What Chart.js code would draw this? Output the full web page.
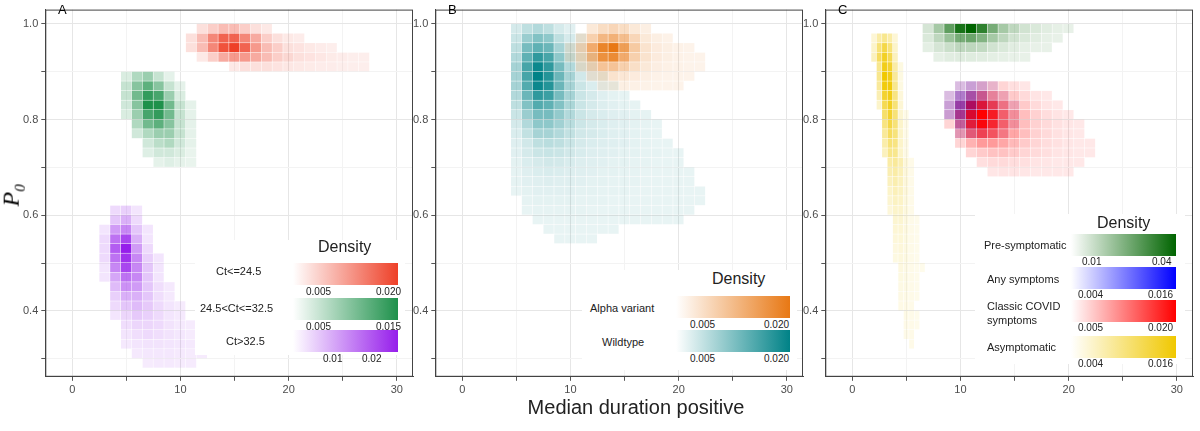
<!DOCTYPE html>
<html>
<head>
<meta charset="utf-8">
<script src="https://cdn.jsdelivr.net/npm/chart.js@4.4.1/dist/chart.umd.min.js"></script>
<style>
  body { margin:0; width:1200px; height:431px; background:#fff; font-family:"Liberation Sans", Arial, sans-serif; position:relative; overflow:hidden; }
  .pane { position:absolute; top:0; }
  .lab { position:absolute; font-size:13px; color:#000; }
  .leg { position:absolute; background:#fff; }
  .bar { position:absolute; height:22px; }
  .t { position:absolute; font-size:10px; color:#222; }
  .rl { position:absolute; font-size:11px; color:#222; }
  .dens { position:absolute; font-size:16px; color:#222; }
</style>
</head>
<body>
<div class="pane" style="left:20px;width:395px;height:400px"><canvas id="ca"></canvas></div>
<div class="pane" style="left:410px;width:395px;height:400px"><canvas id="cb"></canvas></div>
<div class="pane" style="left:800px;width:395px;height:400px"><canvas id="cc"></canvas></div>

<div class="lab" style="left:58px;top:2px">A</div>
<div class="lab" style="left:448px;top:2px">B</div>
<div class="lab" style="left:838px;top:2px">C</div>
<div style="position:absolute;left:2px;top:180px;transform:rotate(-90deg);font-family:'Liberation Serif',serif;font-style:italic;font-size:24px">P<sub style="font-size:15px">0</sub></div>
<div style="position:absolute;left:0;width:1200px;text-align:center;top:396px;font-size:20px;color:#222">
  <span style="position:relative;left:36px">Median duration positive</span></div>

<!-- legend A -->
<div class="leg" style="left:195px;top:240px;width:210px;height:115px"></div>
<div class="dens" style="left:318px;top:238px">Density</div>
<div class="rl" style="left:216px;top:265px">Ct&lt;=24.5</div>
<div class="bar" style="left:293px;top:263px;width:105px;background:linear-gradient(to right,#fff,rgb(238,64,40))"></div>
<div class="t" style="left:306px;top:286px">0.005</div><div class="t" style="left:376px;top:286px">0.020</div>
<div class="rl" style="left:200px;top:302px">24.5&lt;Ct&lt;=32.5</div>
<div class="bar" style="left:293px;top:298px;width:105px;background:linear-gradient(to right,#fff,rgb(30,145,75))"></div>
<div class="t" style="left:306px;top:321px">0.005</div><div class="t" style="left:376px;top:321px">0.015</div>
<div class="rl" style="left:226px;top:335px">Ct&gt;32.5</div>
<div class="bar" style="left:293px;top:330px;width:105px;background:linear-gradient(to right,#fff,rgb(150,30,235))"></div>
<div class="t" style="left:323px;top:353px">0.01</div><div class="t" style="left:362px;top:353px">0.02</div>

<!-- legend B -->
<div class="leg" style="left:582px;top:270px;width:215px;height:100px"></div>
<div class="dens" style="left:712px;top:270px">Density</div>
<div class="rl" style="left:590px;top:302px">Alpha variant</div>
<div class="bar" style="left:676px;top:296px;width:114px;background:linear-gradient(to right,#fff,rgb(232,120,20))"></div>
<div class="t" style="left:690px;top:319px">0.005</div><div class="t" style="left:764px;top:319px">0.020</div>
<div class="rl" style="left:602px;top:336px">Wildtype</div>
<div class="bar" style="left:676px;top:330px;width:114px;background:linear-gradient(to right,#fff,rgb(0,130,135))"></div>
<div class="t" style="left:690px;top:353px">0.005</div><div class="t" style="left:764px;top:353px">0.020</div>

<!-- legend C -->
<div class="leg" style="left:975px;top:214px;width:210px;height:150px"></div>
<div class="dens" style="left:1097px;top:214px">Density</div>
<div class="rl" style="left:984px;top:239px">Pre-symptomatic</div>
<div class="bar" style="left:1071px;top:234px;width:105px;background:linear-gradient(to right,#fff,rgb(0,100,0))"></div>
<div class="t" style="left:1082px;top:256px">0.01</div><div class="t" style="left:1152px;top:256px">0.04</div>
<div class="rl" style="left:987px;top:273px">Any symptoms</div>
<div class="bar" style="left:1071px;top:267px;width:105px;background:linear-gradient(to right,#fff,rgb(0,0,255))"></div>
<div class="t" style="left:1078px;top:289px">0.004</div><div class="t" style="left:1148px;top:289px">0.016</div>
<div class="rl" style="left:987px;top:299px;line-height:14px">Classic COVID<br>symptoms</div>
<div class="bar" style="left:1071px;top:300px;width:105px;background:linear-gradient(to right,#fff,rgb(255,0,0))"></div>
<div class="t" style="left:1078px;top:322px">0.005</div><div class="t" style="left:1148px;top:322px">0.020</div>
<div class="rl" style="left:987px;top:341px">Asymptomatic</div>
<div class="bar" style="left:1071px;top:336px;width:105px;background:linear-gradient(to right,#fff,rgb(240,200,0))"></div>
<div class="t" style="left:1078px;top:358px">0.004</div><div class="t" style="left:1148px;top:358px">0.016</div>

<script>
// rows: [y, first x, relative densities along x]
var ctLow = [
  [0.99, 12, [.1,.2,.3,.3,.2,.1,.05]],
  [0.97, 11, [.1,.3,.6,.8,.8,.6,.4,.2,.1,.05,.03]],
  [0.95, 11, [.1,.3,.6,.9,1,.8,.5,.3,.2,.1,.08,.05,.03,.02]],
  [0.93, 12, [.05,.2,.4,.5,.5,.4,.3,.2,.15,.1,.08,.06,.04,.03,.02,.02]],
  [0.91, 15, [.05,.1,.1,.1,.08,.06,.05,.04,.03,.03,.02,.02,.02]]
];
var ctMid = [
  [0.89, 5, [.1,.3,.4,.2,.05]],
  [0.87, 5, [.2,.5,.7,.5,.2,.05]],
  [0.85, 5, [.2,.6,.9,.8,.4,.1]],
  [0.83, 5, [.15,.5,1,1,.6,.2,.05]],
  [0.81, 5, [.1,.4,.8,.9,.6,.2,.05]],
  [0.79, 6, [.3,.6,.7,.5,.2,.05]],
  [0.77, 6, [.15,.3,.4,.4,.2,.05]],
  [0.75, 7, [.15,.25,.3,.15,.05]],
  [0.73, 7, [.08,.15,.15,.1,.03]],
  [0.71, 8, [.05,.08,.05,.03]]
];
var ctHigh = [
  [0.61, 4, [.1,.15,.05]],
  [0.59, 4, [.2,.3,.1]],
  [0.57, 3, [.05,.4,.5,.2,.05]],
  [0.55, 3, [.1,.6,.8,.3,.05]],
  [0.53, 3, [.1,.7,1,.4,.1]],
  [0.51, 3, [.1,.6,.9,.5,.15,.05]],
  [0.49, 3, [.05,.5,.8,.5,.2,.05]],
  [0.47, 3, [.05,.35,.6,.5,.2,.05]],
  [0.45, 4, [.25,.45,.4,.2,.08,.03]],
  [0.43, 4, [.15,.3,.3,.2,.08,.03]],
  [0.41, 4, [.1,.2,.25,.18,.1,.05,.02]],
  [0.39, 4, [.05,.12,.18,.15,.1,.05,.03]],
  [0.37, 5, [.08,.12,.12,.1,.06,.03,.02]],
  [0.35, 5, [.05,.08,.1,.08,.06,.04,.02]],
  [0.33, 5, [.03,.05,.06,.06,.05,.04,.03,.02]],
  [0.31, 6, [.03,.04,.04,.04,.03,.02,.02]],
  [0.29, 7, [.02,.03,.03,.02,.02]]
];
var wildtype = [
  [0.99, 5, [.1,.2,.25,.2,.1,.05]],
  [0.97, 5, [.15,.35,.45,.4,.2,.1,.05]],
  [0.95, 5, [.2,.5,.6,.55,.3,.15,.05]],
  [0.93, 5, [.25,.6,.8,.7,.4,.2,.08,.04]],
  [0.91, 5, [.3,.7,.95,.8,.5,.25,.1,.05]],
  [0.89, 5, [.3,.7,1,.85,.55,.3,.12,.06,.04]],
  [0.87, 5, [.3,.65,.95,.85,.55,.3,.15,.08,.05,.03]],
  [0.85, 5, [.25,.55,.8,.75,.5,.3,.15,.1,.06,.04,.03]],
  [0.83, 5, [.2,.45,.65,.6,.45,.28,.15,.1,.07,.05,.04,.03]],
  [0.81, 5, [.15,.35,.5,.5,.38,.25,.15,.1,.08,.06,.05,.04,.03]],
  [0.79, 5, [.1,.25,.4,.4,.32,.22,.14,.1,.08,.06,.05,.04,.03,.02]],
  [0.77, 5, [.08,.18,.3,.3,.25,.18,.12,.1,.08,.06,.05,.04,.03,.02]],
  [0.75, 5, [.06,.12,.2,.22,.2,.15,.1,.08,.07,.06,.05,.04,.03,.02,.02]],
  [0.73, 5, [.05,.1,.15,.16,.15,.12,.09,.07,.06,.05,.04,.04,.03,.03,.02,.02]],
  [0.71, 5, [.04,.08,.1,.12,.11,.09,.07,.06,.05,.04,.04,.03,.03,.02,.02,.02]],
  [0.69, 5, [.03,.06,.08,.09,.08,.07,.06,.05,.04,.04,.03,.03,.02,.02,.02,.02,.02]],
  [0.67, 5, [.03,.05,.06,.07,.06,.06,.05,.04,.04,.03,.03,.03,.02,.02,.02,.02,.02]],
  [0.65, 5, [.02,.04,.05,.05,.05,.05,.04,.04,.03,.03,.03,.02,.02,.02,.02,.02,.02,.02]],
  [0.63, 6, [.03,.04,.04,.04,.04,.03,.03,.03,.02,.02,.02,.02,.02,.02,.02,.02,.02]],
  [0.61, 6, [.02,.03,.03,.03,.03,.03,.02,.02,.02,.02,.02,.02,.02,.02,.02,.02]],
  [0.59, 7, [.02,.02,.02,.02,.02,.02,.02,.02,.02,.02,.02,.02,.02,.02]],
  [0.57, 8, [.02,.02,.02,.02,.02,.02,.02]],
  [0.55, 9, [.02,.02,.02,.02]]
];
var alphaVar = [
  [0.99, 12, [.1,.2,.25,.2,.1,.05]],
  [0.97, 11, [.1,.3,.5,.55,.45,.25,.1,.05,.03]],
  [0.95, 10, [.05,.25,.6,.9,1,.7,.35,.15,.08,.05,.03,.02]],
  [0.93, 10, [.05,.2,.5,.8,.85,.6,.3,.15,.08,.05,.03,.02,.02]],
  [0.91, 11, [.1,.25,.4,.4,.3,.18,.1,.06,.04,.03,.02,.02]],
  [0.89, 12, [.08,.15,.15,.12,.08,.05,.03,.02,.02,.02]],
  [0.87, 13, [.03,.05,.05,.04,.03,.02,.02,.02]]
];
var preSymp = [
  [0.99, 7, [.1,.3,.6,.9,1,.8,.5,.3,.2,.12,.08,.05,.03,.02]],
  [0.97, 7, [.08,.2,.35,.5,.55,.45,.3,.2,.12,.08,.05,.03,.02]],
  [0.95, 7, [.04,.1,.15,.2,.2,.18,.12,.08,.05,.03,.02,.02]],
  [0.93, 8, [.03,.05,.06,.06,.05,.04,.03,.02,.02]]
];
var anySymp = [
  [0.87, 10, [.1,.2,.15,.05]],
  [0.85, 9, [.1,.35,.5,.35,.1,.03]],
  [0.83, 9, [.2,.6,.85,.6,.25,.08,.03]],
  [0.81, 9, [.2,.6,.8,.55,.2,.06,.02]],
  [0.79, 10, [.35,.5,.4,.15,.05,.02]],
  [0.77, 10, [.1,.2,.15,.06,.02]]
];
var classic = [
  [0.87, 10, [.05,.1,.15,.15,.1,.06,.03]],
  [0.85, 9, [.05,.15,.3,.4,.35,.25,.15,.08,.04,.02]],
  [0.83, 9, [.1,.3,.6,.75,.65,.45,.25,.15,.08,.04,.02]],
  [0.81, 9, [.12,.4,.8,1,.85,.55,.35,.2,.12,.07,.04,.02]],
  [0.79, 9, [.1,.35,.75,.95,.8,.55,.35,.2,.12,.08,.05,.03,.02]],
  [0.77, 10, [.25,.5,.65,.6,.45,.3,.2,.12,.08,.05,.03,.02]],
  [0.75, 10, [.1,.25,.35,.35,.3,.22,.15,.1,.07,.05,.03,.02,.02]],
  [0.73, 11, [.1,.15,.18,.18,.15,.1,.08,.06,.04,.03,.02,.02]],
  [0.71, 12, [.06,.08,.08,.07,.06,.04,.03,.02,.02,.02]],
  [0.69, 13, [.03,.04,.04,.03,.02,.02,.02,.02]]
];
var asymp = [
  [0.97, 2, [.1,.3,.4,.3,.1]],
  [0.95, 2, [.15,.5,.7,.5,.15]],
  [0.93, 2, [.2,.6,.85,.65,.2]],
  [0.91, 2.5, [.4,.9,.8,.3,.05]],
  [0.89, 2.5, [.4,1,.9,.35,.05]],
  [0.87, 2.5, [.35,.95,.95,.4,.05]],
  [0.85, 2.5, [.25,.8,.9,.45,.08]],
  [0.83, 2.5, [.15,.65,.85,.5,.1]],
  [0.81, 3, [.55,.8,.5,.12,.03]],
  [0.79, 3, [.45,.7,.5,.15,.03]],
  [0.77, 3, [.35,.6,.48,.15,.03]],
  [0.75, 3, [.28,.5,.45,.15,.04]],
  [0.73, 3, [.2,.42,.4,.15,.04]],
  [0.71, 3.5, [.3,.35,.25,.08,.02]],
  [0.69, 3.5, [.25,.3,.22,.08,.02]],
  [0.67, 3.5, [.2,.26,.2,.08,.02]],
  [0.65, 3.5, [.15,.22,.18,.08,.02]],
  [0.63, 3.5, [.12,.18,.16,.07,.02]],
  [0.61, 3.5, [.08,.15,.14,.07,.02]],
  [0.59, 4, [.12,.12,.06,.02,.01]],
  [0.57, 4, [.1,.1,.06,.02,.01]],
  [0.55, 4, [.08,.09,.05,.02,.01]],
  [0.53, 4, [.06,.08,.05,.02,.01]],
  [0.51, 4, [.05,.07,.05,.02,.01]],
  [0.49, 4.5, [.06,.04,.02,.01,.01]],
  [0.47, 4.5, [.05,.04,.02,.01]],
  [0.45, 4.5, [.04,.04,.02,.01]],
  [0.43, 4.5, [.04,.03,.02,.01]],
  [0.41, 4.5, [.03,.03,.02]],
  [0.39, 5, [.03,.02,.01]],
  [0.37, 5, [.02,.02,.01]],
  [0.35, 5, [.02,.02]],
  [0.33, 5.5, [.02]]
];
var xTicks = [0, 10, 20, 30];
var yTicks = [0.4, 0.6, 0.8, 1.0];

function cells(rows, dx) {
  var pts = [];
  rows.forEach(function (r) {
    r[2].forEach(function (d, i) { pts.push({ x: r[1] + i * dx, y: r[0], d: d }); });
  });
  return pts;
}
function layer(rows, rgb, dx) {
  return { data: cells(rows, dx), rgb: rgb, dx: dx, dy: 0.02, pointRadius: 0, showLine: false };
}

var heat = {
  id: 'heat',
  beforeDatasetsDraw: function (chart) {
    var ctx = chart.ctx, xs = chart.scales.x, ys = chart.scales.y, a = chart.chartArea;
    ctx.save();
    ctx.beginPath(); ctx.rect(a.left, a.top, a.right - a.left, a.bottom - a.top); ctx.clip();
    chart.data.datasets.forEach(function (ds) {
      ds.data.forEach(function (p) {
        var x0 = xs.getPixelForValue(p.x - ds.dx / 2), x1 = xs.getPixelForValue(p.x + ds.dx / 2);
        var y0 = ys.getPixelForValue(p.y + ds.dy / 2), y1 = ys.getPixelForValue(p.y - ds.dy / 2);
        var al = Math.min(1, 0.07 + 0.93 * p.d);
        ctx.fillStyle = 'rgba(' + ds.rgb + ',' + al + ')';
        ctx.fillRect(x0, y0, x1 - x0 - 0.5, y1 - y0 - 0.5);
      });
    });
    ctx.restore();
  },
  afterDraw: function (chart) {
    var ctx = chart.ctx, a = chart.chartArea;
    ctx.save();
    ctx.strokeStyle = '#444'; ctx.lineWidth = 1;
    ctx.strokeRect(a.left + 0.5, a.top + 0.5, a.right - a.left - 1, a.bottom - a.top - 1);
    ctx.restore();
  }
};

function makeChart(id, datasets) {
  return new Chart(document.getElementById(id), {
    type: 'scatter',
    data: { datasets: datasets },
    plugins: [heat],
    options: {
      responsive: true, maintainAspectRatio: false, animation: false,
      layout: { padding: { top: 8, right: 2, left: 0, bottom: 0 } },
      plugins: { legend: { display: false }, tooltip: { enabled: false } },
      scales: {
        x: {
          min: -2.5, max: 31.5,
          afterBuildTicks: function (s) { s.ticks = [0, 5, 10, 15, 20, 25, 30].map(function (v) { return { value: v }; }); },
          ticks: { color: '#4d4d4d', font: { size: 11 }, maxRotation: 0,
            callback: function (v) { return xTicks.indexOf(v) >= 0 ? String(v) : ''; } },
          grid: { color: function (c) { return xTicks.indexOf(c.tick.value) >= 0 ? '#e6e6e6' : '#f3f3f3'; }, tickLength: 4, tickColor: '#555' },
          border: { color: '#444' }
        },
        y: {
          min: 0.262, max: 1.03,
          afterBuildTicks: function (s) { s.ticks = [0.3, 0.4, 0.5, 0.6, 0.7, 0.8, 0.9, 1.0].map(function (v) { return { value: v }; }); },
          ticks: { color: '#4d4d4d', font: { size: 11 },
            callback: function (v) { return yTicks.some(function (t) { return Math.abs(t - v) < 1e-6; }) ? v.toFixed(1) : ''; } },
          grid: { color: function (c) { return yTicks.some(function (t) { return Math.abs(t - c.tick.value) < 1e-6; }) ? '#e6e6e6' : '#f3f3f3'; }, tickLength: 4, tickColor: '#555' },
          border: { color: '#444' }
        }
      }
    }
  });
}

makeChart('ca', [layer(ctLow, '238,64,40', 1), layer(ctMid, '30,145,75', 1), layer(ctHigh, '150,30,235', 1)]);
makeChart('cb', [layer(wildtype, '0,130,135', 1), layer(alphaVar, '232,120,20', 1)]);
makeChart('cc', [layer(asymp, '240,200,0', 0.5), layer(preSymp, '0,100,0', 1), layer(anySymp, '0,0,255', 1), layer(classic, '255,0,0', 1)]);
</script>
</body>
</html>
